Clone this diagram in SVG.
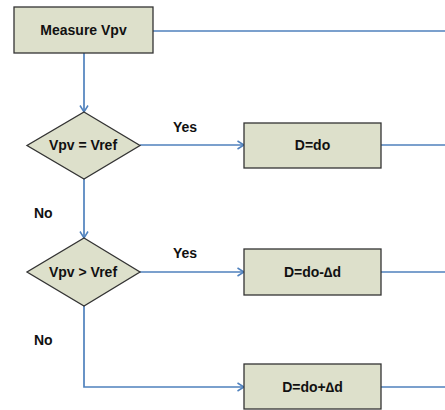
<svg xmlns="http://www.w3.org/2000/svg" width="445" height="410" viewBox="0 0 445 410">
<defs>
<marker id="arr" viewBox="0 0 8 10" refX="7.5" refY="5" markerWidth="8" markerHeight="10" markerUnits="userSpaceOnUse" orient="auto">
<path d="M1,1 L7.5,5 L1,9" fill="none" stroke="#4f81bd" stroke-width="1.5"/>
</marker>
</defs>
<style>
.box{fill:#dde0cb;stroke:#333;stroke-width:1.3}
.t{font-family:"Liberation Sans",Arial,sans-serif;font-weight:bold;font-size:14px;fill:#111;text-anchor:middle}
.lbl{font-family:"Liberation Sans",Arial,sans-serif;font-weight:bold;font-size:14px;fill:#111}
.c{fill:none;stroke:#4f81bd;stroke-width:1.7}
</style>
<rect width="445" height="410" fill="#fff"/>
<g id="connectors">
<path class="c" d="M153,31 H445"/>
<path class="c" d="M84,53 V112" marker-end="url(#arr)"/>
<path class="c" d="M140,145 H244" marker-end="url(#arr)"/>
<path class="c" d="M381,145 H445"/>
<path class="c" d="M84,179 V238" marker-end="url(#arr)"/>
<path class="c" d="M140,272 H244" marker-end="url(#arr)"/>
<path class="c" d="M381,272 H445"/>
<path class="c" d="M84,306 V387 H244" marker-end="url(#arr)"/>
<path class="c" d="M381,387 H445"/>
<text class="lbl" x="173" y="132">Yes</text>
<text class="lbl" x="34" y="218">No</text>
<text class="lbl" x="173" y="258">Yes</text>
<text class="lbl" x="34" y="345">No</text>
</g>
<g id="measure">
<rect class="box" x="14" y="7" width="139" height="46"/>
<text class="t" x="83.5" y="35">Measure Vpv</text>
</g>
<g id="dec1">
<polygon class="box" points="84,112 140,145.5 84,179 27,145.5"/>
<text class="t" x="83" y="150">Vpv = Vref</text>
</g>
<g id="dec2">
<polygon class="box" points="84,238 140,272 84,306 27,272"/>
<text class="t" x="83" y="277">Vpv &gt; Vref</text>
</g>
<g id="d0">
<rect class="box" x="244" y="123" width="137" height="45"/>
<text class="t" x="312.5" y="150">D=do</text>
</g>
<g id="dminus">
<rect class="box" x="244" y="249" width="137" height="46"/>
<text class="t" x="312.5" y="277">D=do-∆d</text>
</g>
<g id="dplus">
<rect class="box" x="244" y="364" width="137" height="45"/>
<text class="t" x="312.5" y="392">D=do+∆d</text>
</g>
</svg>
